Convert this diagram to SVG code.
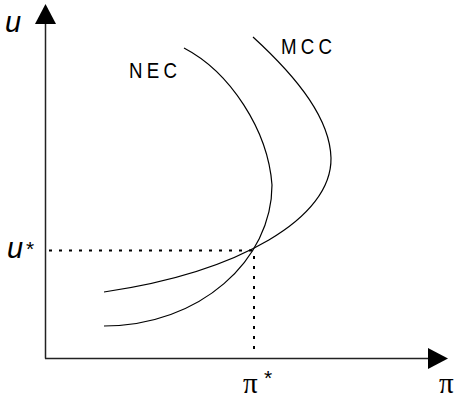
<svg xmlns="http://www.w3.org/2000/svg" width="454" height="398" viewBox="0 0 454 398">
<style>
.axis{stroke:#222;stroke-width:1.5;fill:none}
.curve{stroke:#000;stroke-width:1.2;fill:none}
.dot{stroke:#000;stroke-width:2;stroke-dasharray:3 7;fill:none}
.lbl{font-family:"Liberation Sans",Arial,sans-serif;font-size:22px;letter-spacing:5px;fill:#000}
.var{font-family:"Liberation Sans",Arial,sans-serif;font-style:italic;font-size:29px;fill:#000}
.pi{font-family:"Liberation Serif","Times New Roman",serif;font-size:29px;fill:#000}
.star{font-family:"Liberation Sans",Arial,sans-serif;font-size:21px;fill:#000}
</style>
<g id="connectors">
<line class="axis" x1="45.5" y1="22" x2="45.5" y2="358.5"/>
<polygon points="45.5,4 35,24 56,24" fill="#000"/>
<line class="axis" x1="45" y1="358.5" x2="430" y2="358.5"/>
<polygon points="448,358.5 428,348 428,369" fill="#000"/>
<line class="dot" x1="49" y1="250.5" x2="253" y2="250.5"/>
<line class="dot" x1="254" y1="256" x2="254" y2="356"/>
</g>
<g id="NEC">
<path class="curve" d="M184,48 C230,72 268,130 272,185 C272,260 200,326 104,326"/>
<text class="lbl" transform="translate(129,78) scale(0.85,1)">NEC</text>
</g>
<g id="MCC">
<path class="curve" d="M253,37 C300,80 330,120 331,158 C332,218 240,272 104,292"/>
<text class="lbl" transform="translate(281,54) scale(0.85,1)">MCC</text>
</g>
<g id="labels">
<text class="var" x="5" y="32">u</text>
<text class="var" x="7" y="258">u</text>
<text class="star" x="26" y="256">*</text>
<text class="pi" x="243" y="393">π</text>
<text class="star" x="264" y="385">*</text>
<text class="pi" x="439" y="393">π</text>
</g>
</svg>
